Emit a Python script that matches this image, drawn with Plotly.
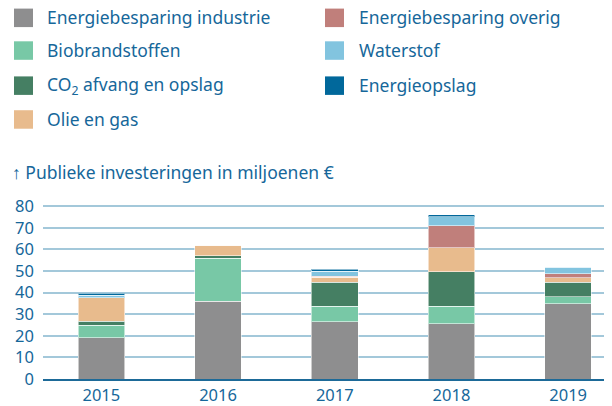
import plotly.graph_objects as go

years = ["2015", "2016", "2017", "2018", "2019"]
industrie = [19.0, 36.0, 26.6, 25.7, 34.8]
biobrandstoffen = [6.0, 20.0, 7.2, 8.1, 3.2]
co2 = [1.7, 1.0, 11.1, 16.0, 6.9]
olie_gas = [11.0, 5.0, 2.2, 11.1, 2.0]
overig = [0.0, 0.0, 0.6, 10.0, 1.9]
waterstof = [1.0, 0.0, 2.3, 4.2, 3.0]
energieopslag = [1.0, 0.0, 0.9, 1.1, 0.0]
y_ticks = [0, 10, 20, 30, 40, 50, 60, 70, 80]

series = [
    ("Energiebesparing industrie", industrie, "#8E8E8F"),
    ("Biobrandstoffen", biobrandstoffen, "#78C8A6"),
    ("CO<sub>2</sub> afvang en opslag", co2, "#457F63"),
    ("Olie en gas", olie_gas, "#E8BB8D"),
    ("Energiebesparing overig", overig, "#C07F7B"),
    ("Waterstof", waterstof, "#82C4DF"),
    ("Energieopslag", energieopslag, "#01689B"),
]

TXT = "#16679A"
FONT = "Noto Sans"

fig = go.Figure()
for name, vals, col in series:
    fig.add_trace(go.Bar(
        x=years, y=vals, name=name, marker_color=col,
        marker_line=dict(color="rgba(255,255,255,0.55)", width=1),
        showlegend=False,
    ))

# page body has an 8px margin; work in page coordinates and subtract it
OFF = 8
W, H = 612 - OFF, 406 - OFF
L, R, T, B = 43 - OFF, 0, 201.5 - OFF, 26.5
pw, ph = W - L - R, H - T - B


def px(x):
    return (x - OFF - L) / pw


def py(y):
    return (H - B - (y - OFF)) / ph


# manual legend (2 columns)
legend_layout = [
    (0, 0), (1, 0), (2, 0), (3, 0), (0, 1), (1, 1), (2, 1),
]
rows_y = [16.3, 49.2, 84.5, 118.5]
cols = [(14, 46), (325, 358)]
shapes = []
annotations = []
for (name, vals, col), (r, c) in zip(series, legend_layout):
    sx, tx = cols[c]
    yc = rows_y[r]
    shapes.append(dict(type="rect", xref="paper", yref="paper",
                       x0=px(sx), x1=px(sx + 19), y0=py(yc + 9.3), y1=py(yc - 9.3),
                       fillcolor=col, line=dict(width=0)))
    annotations.append(dict(text=name, xref="paper", yref="paper",
                            x=px(tx - 1), y=py(yc - 0.5), xanchor="left", yanchor="middle",
                            showarrow=False, font=dict(size=17.5, color=TXT, family=FONT)))

annotations.append(dict(text="↑ Publieke investeringen in miljoenen €", xref="paper", yref="paper",
                        x=px(10), y=py(171), xanchor="left", yanchor="middle",
                        showarrow=False, font=dict(size=17.5, color=TXT, family=FONT)))

fig.update_layout(
    barmode="stack",
    bargap=0.6,
    width=W, height=H,
    margin=dict(l=L, r=R, t=T, b=B, pad=0),
    paper_bgcolor="white", plot_bgcolor="white",
    font=dict(family=FONT, size=16.5, color=TXT),
    shapes=shapes,
    annotations=annotations,
    xaxis=dict(range=[-0.5, -0.5 + pw / 116.7], showgrid=False, showline=True,
               linecolor="#1D6A98", linewidth=2, ticks="", tickfont=dict(size=16.5, color=TXT)),
    yaxis=dict(range=[0, 82], tickvals=y_ticks, showgrid=True, gridcolor="#A3C8DA",
               gridwidth=2, zeroline=False, ticks="", ticklabelstandoff=8,
               tickfont=dict(size=16.5, color=TXT)),
)

fig.write_html("out.html")
